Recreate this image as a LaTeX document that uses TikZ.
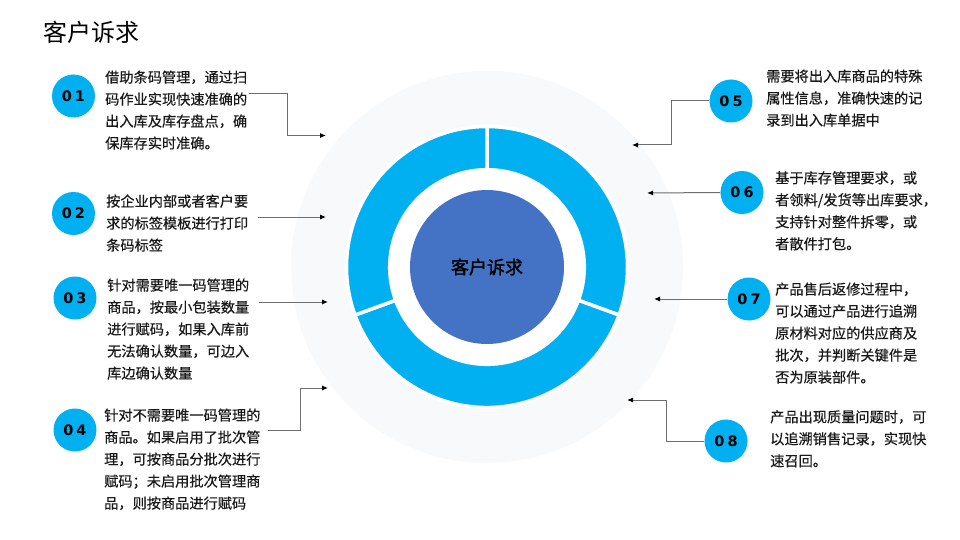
\documentclass[tikz,border=0pt]{standalone}
\usepackage{fontspec}
\setmainfont{Noto Sans CJK SC}
\newfontfamily\bodyfont{Noto Sans CJK SC}[FakeBold=0.4]
\newfontfamily\corefont{Noto Sans CJK SC}[FakeBold=1.6]
\newfontfamily\numfont{DejaVu Sans}
\usetikzlibrary{arrows.meta}
\definecolor{ringblue}{RGB}{0,176,240}
\definecolor{coreblue}{RGB}{68,114,196}
\definecolor{halo}{RGB}{248,249,251}
\definecolor{txt}{RGB}{25,25,25}
\definecolor{conn}{RGB}{110,110,110}
\tikzset{
  numdot/.style={circle,fill=ringblue,minimum size=43pt,inner sep=0pt,
    font=\numfont\bfseries\fontsize{14.5}{14.5}\selectfont,text=black},
  desc/.style={anchor=north west,inner sep=0pt,align=left,text=txt,
    font=\bodyfont\fontsize{14.2}{22}\selectfont},
  link/.style={draw=conn,line width=1pt,-{Latex[length=6pt,width=5pt,black]}},
  seg/.style={fill=ringblue,draw=white,line width=3.5pt},
}
\newcommand{\fl}{\rule{0pt}{12pt}}
\begin{document}
\begin{tikzpicture}[x=1pt,y=-1pt]
\useasboundingbox[fill=white] (0,0) rectangle (960,540);
% title
\node[anchor=west,inner sep=0pt,font=\fontsize{24}{24}\selectfont,text=black] (title) at (43,32.5) {客户诉求};
% halo and donut
\coordinate (c) at (487,267);
\fill[halo] (c) circle[radius=196];
\fill[white] (c) circle[radius=142];
\begin{scope}[shift={(c)},yscale=-1]
  \path[seg] (90:140.5) arc[start angle=90,end angle=-20,radius=140.5] -- (-20:97.3) arc[start angle=-20,end angle=90,radius=97.3] -- cycle;
  \path[seg] (-20:140.5) arc[start angle=-20,end angle=-160,radius=140.5] -- (-160:97.3) arc[start angle=-160,end angle=-20,radius=97.3] -- cycle;
  \path[seg] (200:140.5) arc[start angle=200,end angle=90,radius=140.5] -- (90:97.3) arc[start angle=90,end angle=200,radius=97.3] -- cycle;
\end{scope}
\node[circle,fill=coreblue,minimum size=154pt,inner sep=0pt,font=\corefont\fontsize{18}{18}\selectfont,text=black] (core) at (c) {客户诉求};
% number dots
\node[numdot] (n1) at (73.5,96) {0\hspace{3pt}1};
\node[numdot] (n2) at (73.5,213.5) {0\hspace{3pt}2};
\node[numdot] (n3) at (75,298) {0\hspace{3pt}3};
\node[numdot] (n4) at (75,430) {0\hspace{3pt}4};
\node[numdot] (n5) at (731,101) {0\hspace{3pt}5};
\node[numdot] (n6) at (742,192.5) {0\hspace{3pt}6};
\node[numdot] (n7) at (749,299) {0\hspace{3pt}7};
\node[numdot] (n8) at (726,441) {0\hspace{3pt}8};
% descriptions
\node[desc] (t1) at (105,70.3) {\fl 借助条码管理，通过扫\\码作业实现快速准确的\\出入库及库存盘点，确\\保库存实时准确。};
\node[desc] (t2) at (106,194.3) {\fl 按企业内部或者客户要\\求的标签模板进行打印\\条码标签};
\node[desc] (t3) at (107,278.3) {\fl 针对需要唯一码管理的\\商品，按最小包装数量\\进行赋码，如果入库前\\无法确认数量，可边入\\库边确认数量};
\node[desc] (t4) at (104,408.3) {\fl 针对不需要唯一码管理的\\商品。如果启用了批次管\\理，可按商品分批次进行\\赋码；未启用批次管理商\\品，则按商品进行赋码};
\node[desc] (t5) at (766,69.3) {\fl 需要将出入库商品的特殊\\属性信息，准确快速的记\\录到出入库单据中};
\node[desc] (t6) at (775,171) {\fl 基于库存管理要求，或\\者领料/发货等出库要求，\\支持针对整件拆零，或\\者散件打包。};
\node[desc] (t7) at (775,282.3) {\fl 产品售后返修过程中，\\可以通过产品进行追溯\\原材料对应的供应商及\\批次，并判断关键件是\\否为原装部件。};
\node[desc] (t8) at (770,410) {\fl 产品出现质量问题时，可\\以追溯销售记录，实现快\\速召回。};
% connectors
\coordinate (e1) at (326,135.5);
\coordinate (e2) at (326,217);
\coordinate (e3) at (328,302);
\coordinate (e4) at (328,388);
\coordinate (e5) at (632,145);
\coordinate (e6) at (647,193);
\coordinate (e7) at (654,299);
\coordinate (e8) at (627,400);
\coordinate (s1) at (249,94);
\coordinate (s2) at (258,217);
\coordinate (s3) at (259,302);
\coordinate (s4) at (268,430);
\draw[link] (s1) -- (287,94) |- (e1);
\draw[link] (s2) -- (e2);
\draw[link] (s3) -- (e3);
\draw[link] (s4) -- (300,430) |- (e4);
\draw[link] (n5.west) -- (671.5,101) |- (e5);
\draw[link] (n6.west) -- (e6);
\draw[link] (n7.west) -- (e7);
\draw[link] (n8.west) -- (666,441) |- (e8);
\end{tikzpicture}
\end{document}
